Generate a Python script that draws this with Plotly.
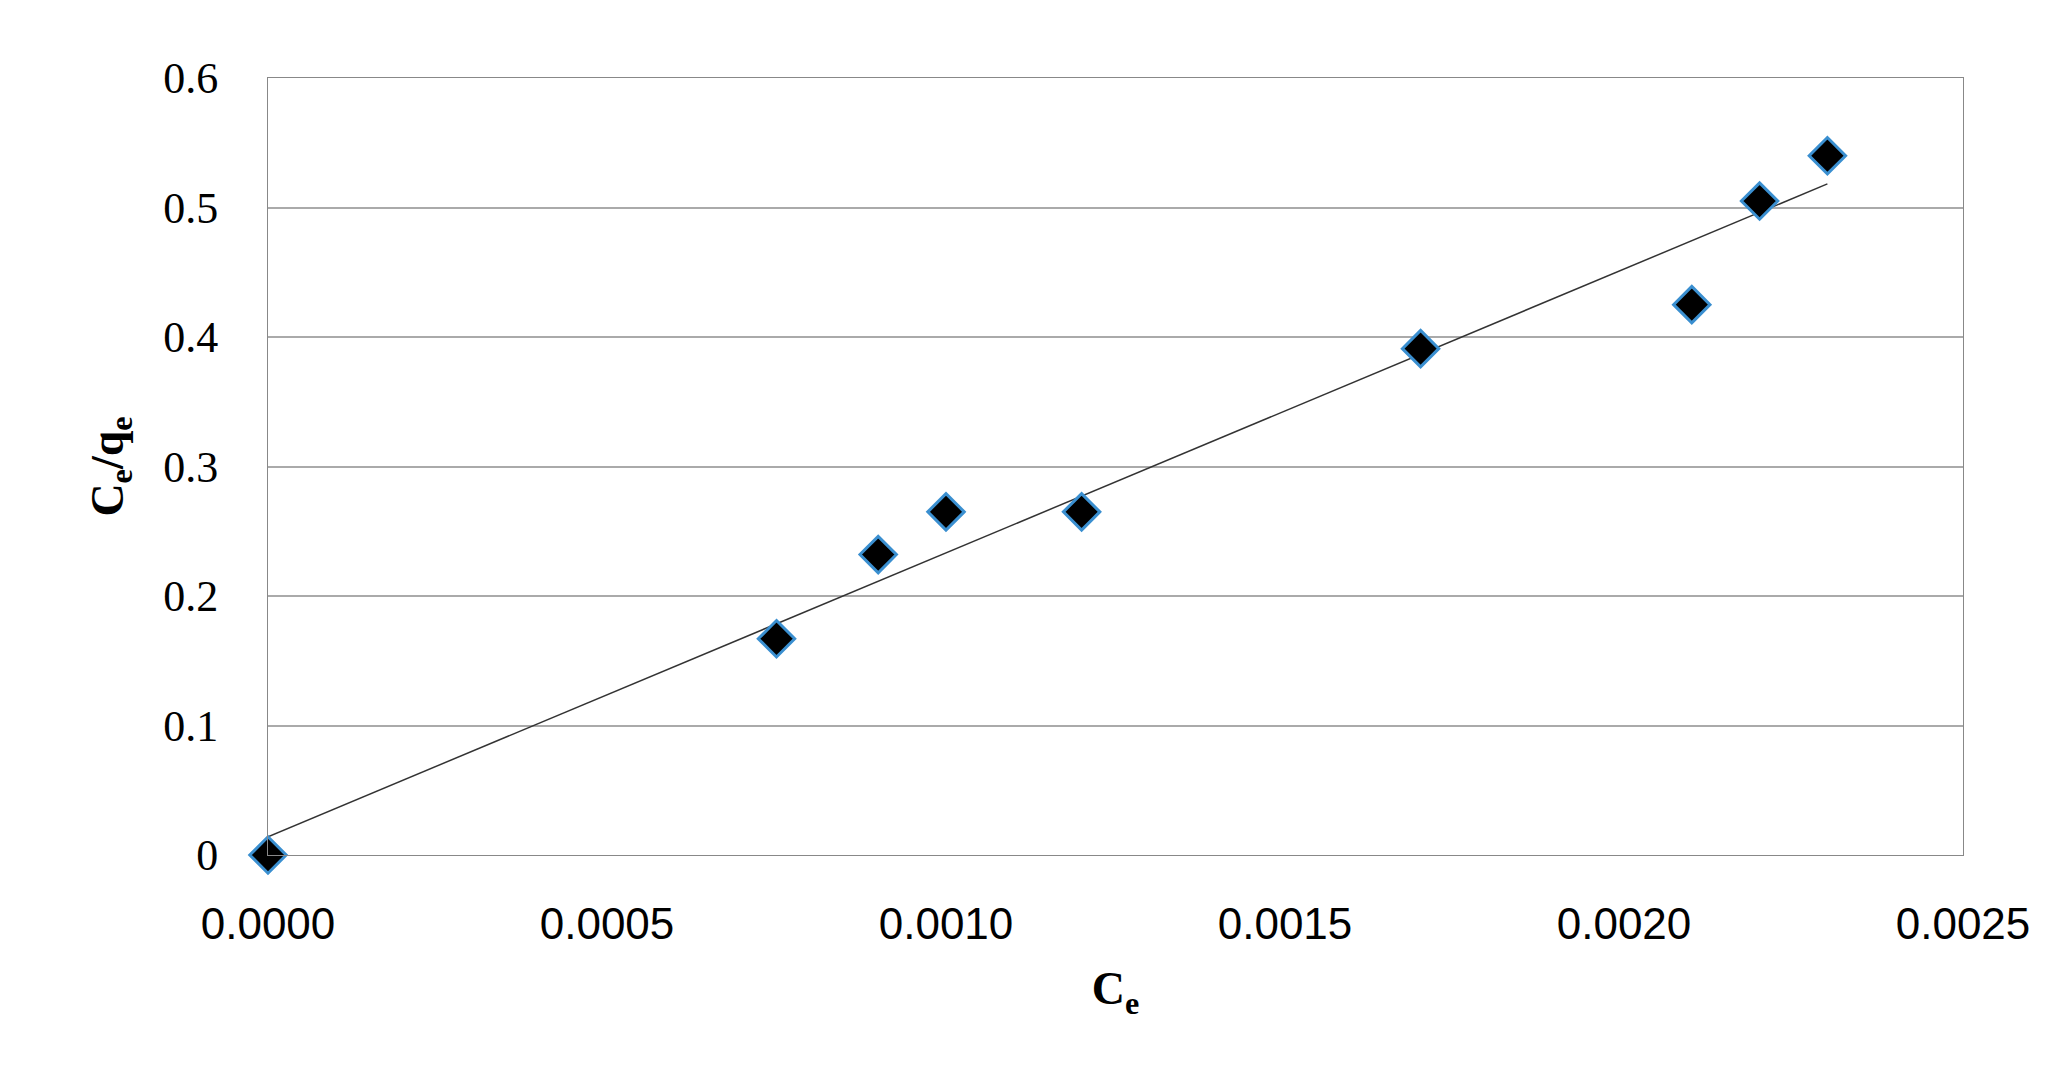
import numpy as np
import plotly.graph_objects as go

ce = [0.0, 0.00075, 0.0009, 0.0010, 0.0012, 0.0017, 0.0021, 0.0022, 0.0023]
ce_qe = [0.0, 0.167, 0.232, 0.265, 0.265, 0.391, 0.425, 0.505, 0.540]
x_ticks = [0.0, 0.0005, 0.0010, 0.0015, 0.0020, 0.0025]
x_labels = ["0.0000", "0.0005", "0.0010", "0.0015", "0.0020", "0.0025"]
y_ticks = [0.0, 0.1, 0.2, 0.3, 0.4, 0.5, 0.6]
y_labels = ["0", "0.1", "0.2", "0.3", "0.4", "0.5", "0.6"]

# linear trendline
slope, icpt = np.polyfit(ce, ce_qe, 1)
fit_x = [min(ce), max(ce)]
fit_y = [slope * v + icpt for v in fit_x]

fig = go.Figure()
fig.add_trace(go.Scatter(x=fit_x, y=fit_y, mode="lines",
                         line=dict(color="#333333", width=1.5), showlegend=False))
fig.add_trace(go.Scatter(x=ce, y=ce_qe, mode="markers",
                         marker=dict(symbol="diamond", size=28, color="black",
                                     line=dict(color="#3a8fd0", width=3)),
                         showlegend=False, cliponaxis=False))

fig.update_layout(
    width=2064, height=1065,
    paper_bgcolor="white", plot_bgcolor="white",
    margin=dict(l=260, r=109, t=70, b=218),
    font=dict(family="Liberation Serif", color="black"),
)
fig.update_xaxes(range=[0, 0.0025], tickvals=x_ticks, ticktext=x_labels,
                 showgrid=False, showline=True, linecolor="#888888", mirror=True,
                 ticks="", tickfont=dict(family="Liberation Sans Narrow, Liberation Sans", size=44),
                 ticklabelstandoff=30, zeroline=False,
                 title=dict(text="<b>C<sub>e</sub></b>", font=dict(size=46), standoff=25))
fig.update_yaxes(range=[0, 0.6], tickvals=y_ticks, ticktext=y_labels,
                 showgrid=True, gridcolor="#aaaaaa", gridwidth=1.5,
                 showline=True, linecolor="#888888", mirror=True, zeroline=False,
                 ticks="", tickfont=dict(size=44), ticklabelstandoff=40,
                 title=dict(text="<b>C<sub>e</sub>/q<sub>e</sub></b>", font=dict(size=46), standoff=25))

fig.write_html("out.html")
